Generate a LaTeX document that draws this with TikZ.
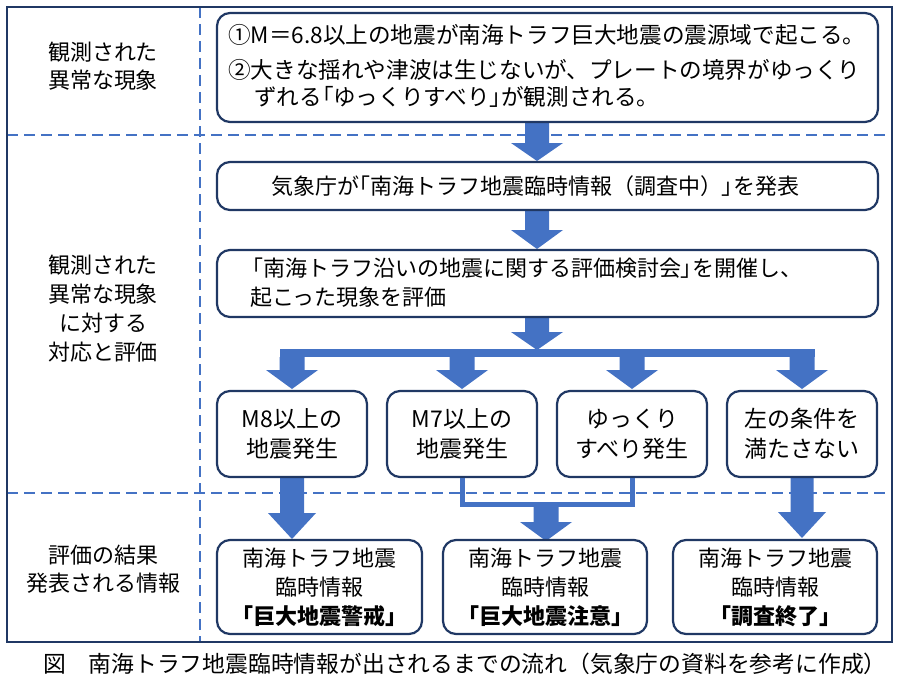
\documentclass[tikz,border=0pt]{standalone}
\usepackage{fontspec}
\setmainfont{Noto Sans CJK JP}
\newfontfamily\pfnt{Noto Sans CJK JP}[RawFeature=+palt]
\newcommand\hbr[1]{{\pfnt #1}}
\usetikzlibrary{calc}
\definecolor{navy}{RGB}{32,56,100}
\definecolor{obl}{RGB}{68,114,196}
\newcommand\blkarrow[6]{%
  \fill[obl] (#1-#5,#2) -- (#1-#5,#3) -- (#1-#6,#3) -- (#1,#4) -- (#1+#6,#3) -- (#1+#5,#3) -- (#1+#5,#2) -- cycle;}
\tikzset{
  box/.style={draw=navy, line width=2.2pt, rounded corners=13pt, fill=white, inner sep=0pt, align=center},
  txt/.style={inner sep=0pt, font=\fontsize{22}{29}\selectfont},
  btxt/.style={inner sep=0pt, font=\fontsize{22.6}{29}\selectfont},
  lbl/.style={inner sep=0pt, align=center, font=\fontsize{22}{28}\selectfont},
  dline/.style={obl, line width=1.5pt, dash pattern=on 11pt off 6pt},
  conn/.style={obl, line width=5pt},
}
\begin{document}
\begin{tikzpicture}[x=1pt,y=-1pt]
\useasboundingbox (0,0) rectangle (900,685);
% dashed separators
\coordinate (v1) at (200,7); \coordinate (v2) at (200,642);
\coordinate (h1a) at (7,135); \coordinate (h1b) at (892,135);
\coordinate (h2a) at (7,493); \coordinate (h2b) at (892,493);
\draw[dline] (v1) -- (v2);
\draw[dline] (h1a) -- (h1b);
\draw[dline] (h2a) -- (h2b);

% block arrows
\blkarrow{537}{122}{143}{161}{12}{26}
\blkarrow{537}{210}{230}{249}{12}{26}
\blkarrow{537}{317}{332}{350}{12}{26}
\fill[obl] (279.5,349) rectangle (814.5,357);
\blkarrow{292}{357}{370}{389}{12.5}{26}
\blkarrow{462}{357}{370}{389}{12.5}{26}
\blkarrow{632}{357}{370}{389}{12.5}{26}
\blkarrow{802}{357}{370}{389}{12.5}{26}
\blkarrow{292}{477}{513}{539}{12}{24}
\blkarrow{546}{505}{522}{541}{12.5}{26}
\blkarrow{802}{477}{512}{538}{11.5}{24}

% boxes
\node[box, minimum width=661pt, minimum height=109pt] (obs) at (547.5,67.5) {};
\node[btxt, anchor=west] (obs1) at (228,35) {①M＝6.8以上の地震が南海トラフ巨大地震の震源域で起こる。};
\node[btxt, anchor=west] (obs2) at (228,70) {②大きな揺れや津波は生じないが、プレートの境界がゆっくり};
\node[btxt, anchor=west] (obs3) at (254,97) {ずれる\hbr{「}ゆっくりすべり\hbr{」}が観測される。};

\node[box, minimum width=661pt, minimum height=48pt] (jma) at (547.5,186) {};
\node[txt] (jmat) at (535,186) {気象庁が\hbr{「}南海トラフ地震臨時情報（調査中）\hbr{」}を発表};

\node[box, minimum width=661pt, minimum height=67pt] (eval) at (547.5,283.5) {};
\node[txt, anchor=west] (eval1) at (241,268) {「南海トラフ沿いの地震に関する評価検討会\hbr{」}を開催し、};
\node[txt, anchor=west] (eval2) at (250,297) {起こった現象を評価};

\node[box, minimum width=150pt, minimum height=86pt, font=\fontsize{23}{30}\selectfont] (A) at (292,434) {M8以上の\\地震発生};
\node[box, minimum width=150pt, minimum height=86pt, font=\fontsize{23}{30}\selectfont] (B) at (462,434) {M7以上の\\地震発生};
\node[box, minimum width=150pt, minimum height=86pt, font=\fontsize{23}{30}\selectfont] (C) at (632,434) {ゆっくり\\すべり発生};
\node[box, minimum width=150pt, minimum height=86pt, font=\fontsize{23}{30}\selectfont] (D) at (802,434) {左の条件を\\満たさない};

\draw[conn] (B.south) -- ++(0,26) -| (C.south);

\node[box, minimum width=205pt, minimum height=94pt, font=\fontsize{22}{29}\selectfont] (R1) at (319.5,587) {南海トラフ地震\\臨時情報\\\textbf{「巨大地震警戒」}};
\node[box, minimum width=204pt, minimum height=94pt, font=\fontsize{22}{29}\selectfont] (R2) at (545,587) {南海トラフ地震\\臨時情報\\\textbf{「巨大地震注意」}};
\node[box, minimum width=204pt, minimum height=94pt, font=\fontsize{22}{29}\selectfont] (R3) at (775,587) {南海トラフ地震\\臨時情報\\\textbf{「調査終了」}};

% left labels
\node[lbl] (L1) at (103,66) {観測された\\異常な現象};
\node[lbl, font=\fontsize{22}{29}\selectfont] (L2) at (103,309) {観測された\\異常な現象\\に対する\\対応と評価};
\node[lbl] (L3) at (104,569) {評価の結果\\発表される情報};

% frame
\draw[navy, line width=2pt] (7,7) rectangle (892,642);

% caption
\node[inner sep=0pt, font=\fontsize{22.8}{29}\selectfont, anchor=west] (cap) at (43,664) {図　南海トラフ地震臨時情報が出されるまでの流れ（気象庁の資料を参考に作成）};
\end{tikzpicture}
\end{document}
